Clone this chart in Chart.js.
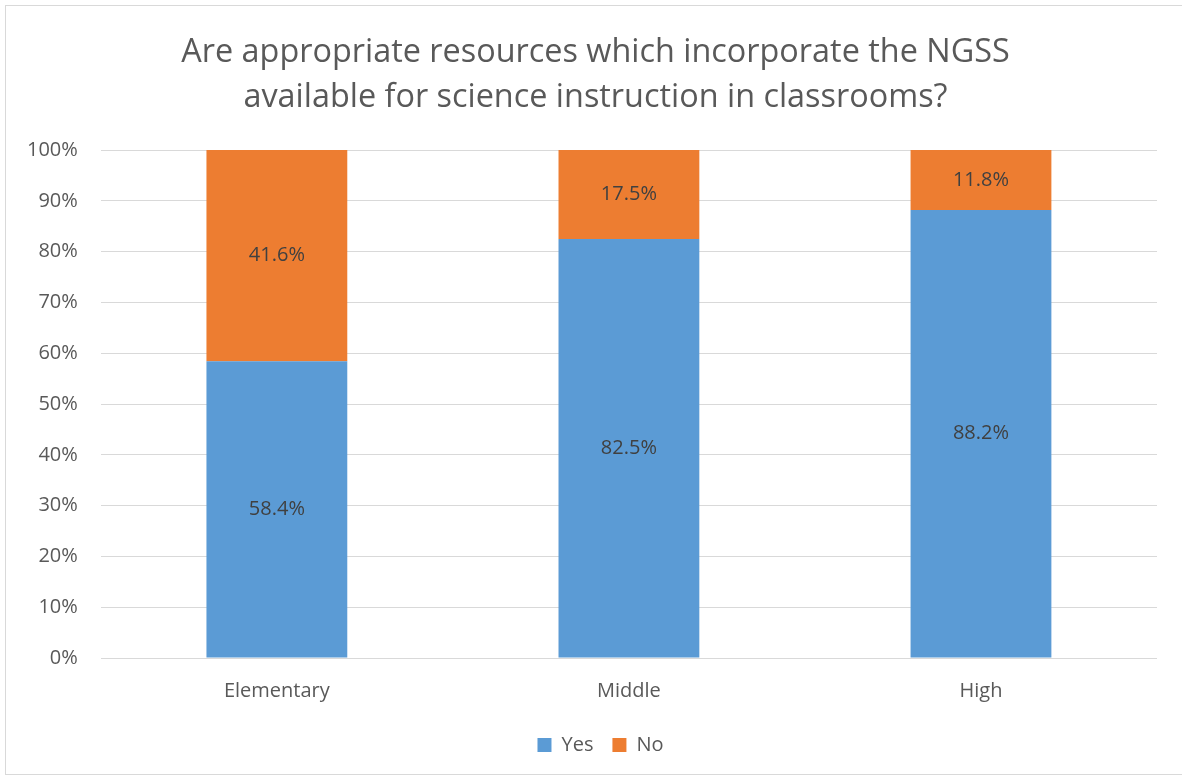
<!DOCTYPE html>
<html>
<head>
<meta charset="utf-8">
<script src="https://cdn.jsdelivr.net/npm/chart.js@4"></script>
<style>
html,body{margin:0;padding:0;background:#fff;}
#wrap{position:absolute;left:0;top:0;width:1182px;height:778px;}
#frame{position:absolute;left:5px;top:5px;width:1180px;height:770px;border:1px solid #d9d9d9;box-sizing:border-box;pointer-events:none;}
</style>
</head>
<body>
<div id="wrap"><canvas id="c" width="1182" height="778"></canvas></div>
<div id="frame"></div>
<script>
const titleLines = ["Are appropriate resources which incorporate the NGSS", "available for science instruction in classrooms?"];
const categories = ["Elementary", "Middle", "High"];
const yesValues = [58.4, 82.5, 88.2];
const noValues = [41.6, 17.5, 11.8];
const yTicks = [0, 10, 20, 30, 40, 50, 60, 70, 80, 90, 100];

const FONT = "'Open Sans', 'Noto Sans', sans-serif";

const labelPlugin = {
  id: 'barLabels',
  afterDatasetsDraw(chart) {
    const ctx = chart.ctx;
    ctx.save();
    ctx.font = "20px " + FONT;
    ctx.fillStyle = "#404040";
    ctx.textAlign = "center";
    ctx.textBaseline = "middle";
    chart.data.datasets.forEach((ds, i) => {
      const meta = chart.getDatasetMeta(i);
      meta.data.forEach((bar, j) => {
        const p = bar.getProps(['x', 'y', 'base'], true);
        ctx.fillText(ds.data[j].toFixed(1) + "%", p.x, (p.y + p.base) / 2);
      });
    });
    ctx.restore();
  }
};

// shift title and legend horizontally to centre them like the original
const shiftPlugin = {
  id: 'shiftBlocks',
  afterLayout(chart) {
    if (chart.titleBlock) { chart.titleBlock.left += 15; chart.titleBlock.right += 15; }
    if (chart.legend) { chart.legend.left += 20; chart.legend.right += 20; }
  }
};

new Chart(document.getElementById('c'), {
  type: 'bar',
  data: {
    labels: categories,
    datasets: [
      { label: 'Yes', data: yesValues, backgroundColor: '#5b9bd5', categoryPercentage: 0.8, barPercentage: 0.5 },
      { label: 'No', data: noValues, backgroundColor: '#ed7d31', categoryPercentage: 0.8, barPercentage: 0.5 }
    ]
  },
  options: {
    responsive: false,
    animation: false,
    devicePixelRatio: 1,
    layout: { padding: { left: 4, right: 25, top: 30, bottom: 13 } },
    plugins: {
      title: {
        display: true,
        text: titleLines,
        color: '#595959',
        font: { family: FONT, size: 32.4, weight: 'normal', lineHeight: 1.39 },
        padding: { top: 0, bottom: 30 }
      },
      legend: {
        position: 'bottom',
        labels: {
          color: '#595959',
          font: { family: FONT, size: 20 },
          boxWidth: 14, boxHeight: 14,
          padding: 19
        }
      },
      tooltip: { enabled: false }
    },
    scales: {
      x: {
        stacked: true,
        grid: { display: false },
        border: { display: false },
        ticks: { color: '#595959', font: { family: FONT, size: 20 }, padding: 13 }
      },
      y: {
        stacked: true,
        min: 0, max: 100,
        afterBuildTicks(scale) { scale.ticks = yTicks.map(v => ({ value: v })); },
        grid: { color: '#d9d9d9', lineWidth: 1, drawTicks: false },
        border: { display: false },
        ticks: { color: '#595959', font: { family: FONT, size: 20 }, padding: 23,
          callback: v => v + '%' }
      }
    }
  },
  plugins: [labelPlugin, shiftPlugin]
});
</script>
</body>
</html>
